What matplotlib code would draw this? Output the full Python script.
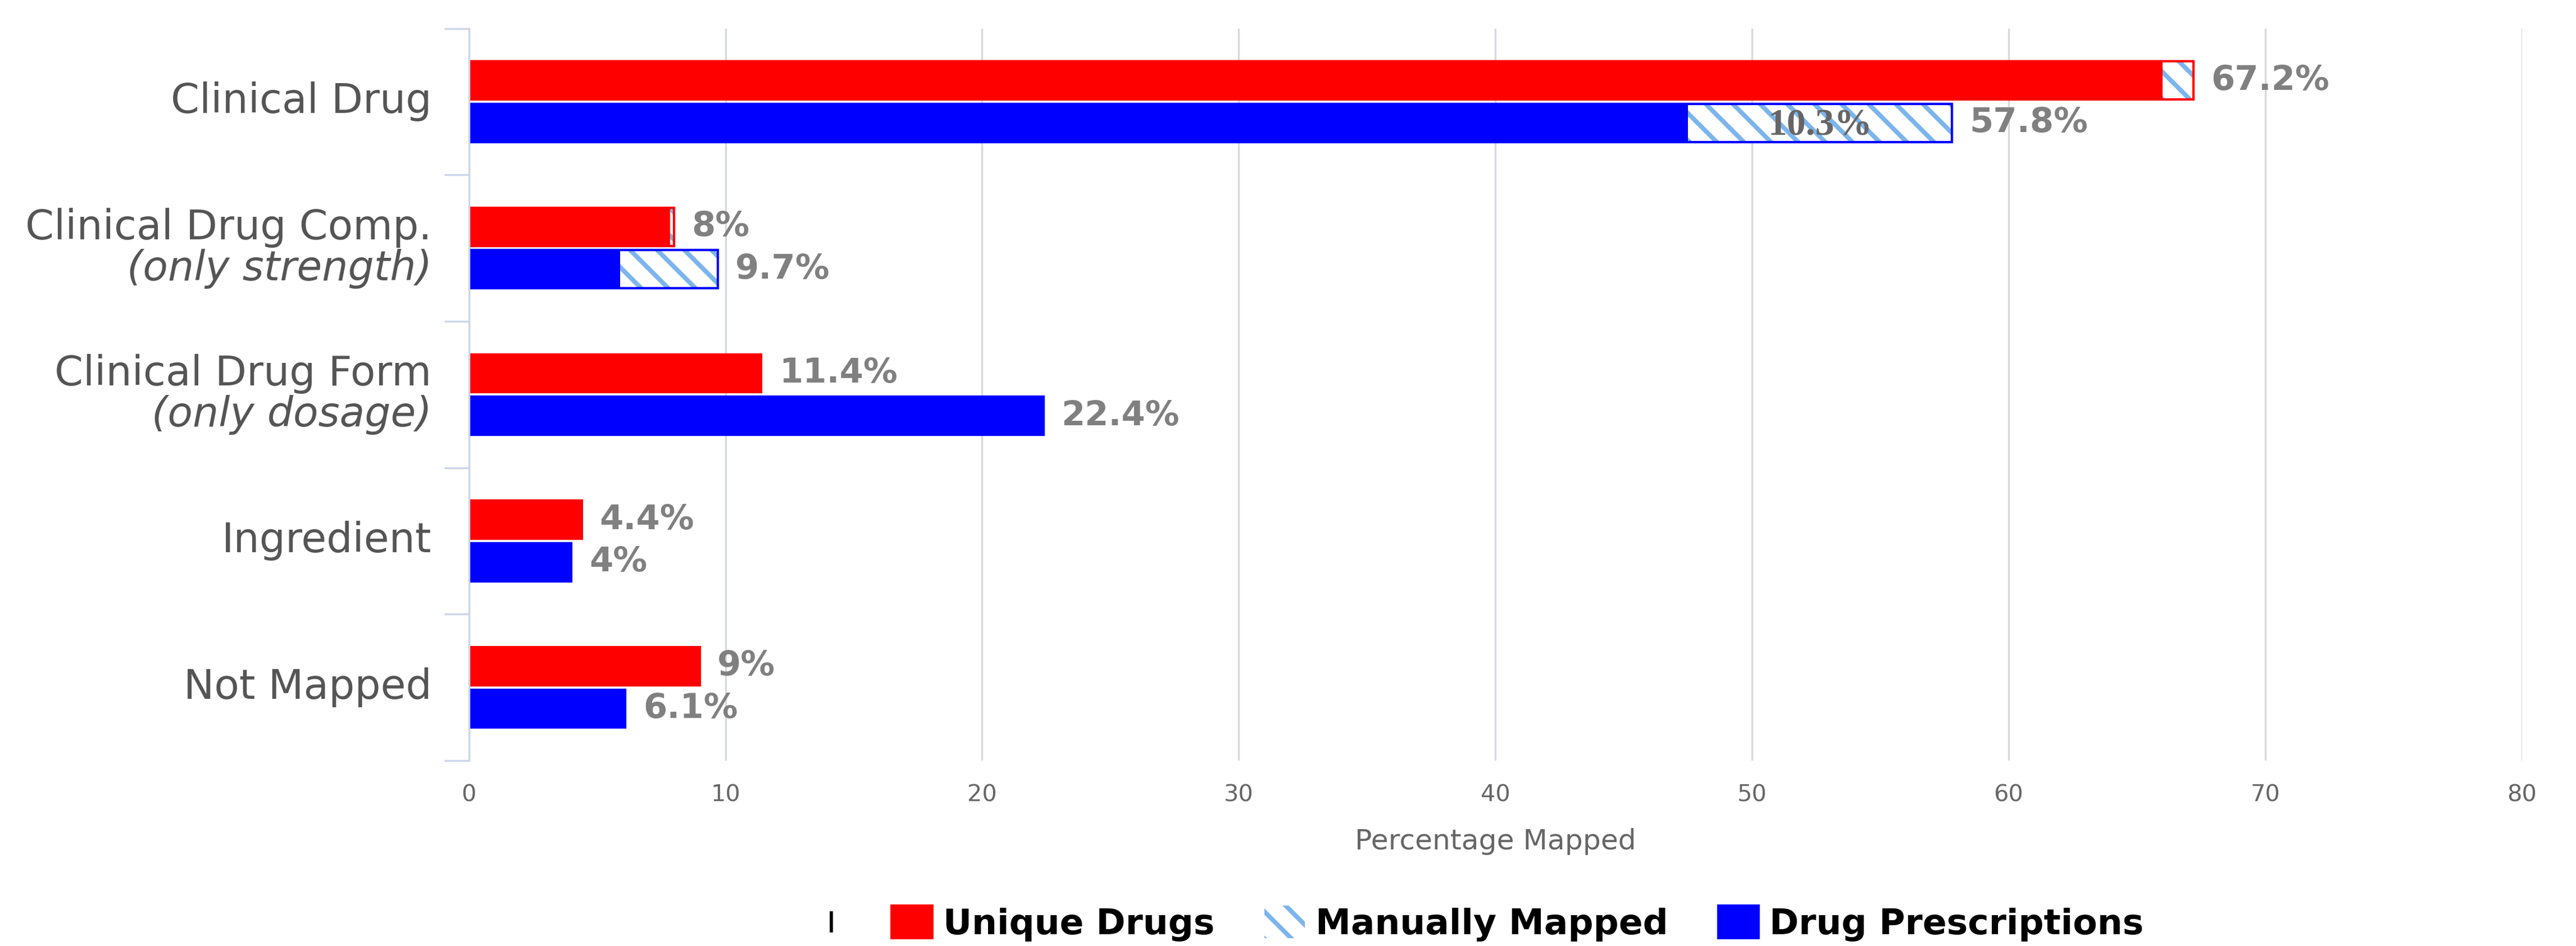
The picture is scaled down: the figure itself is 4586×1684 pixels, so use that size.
import numpy as np
import matplotlib
matplotlib.use("Agg")
import matplotlib.pyplot as plt
from matplotlib.patches import Patch
from matplotlib.lines import Line2D
from matplotlib.legend_handler import HandlerBase

# data
categories = ['Clinical Drug', 'Clinical Drug Comp.', 'Clinical Drug Form', 'Ingredient', 'Not Mapped']
subtitles = ['', '(only strength)', '(only dosage)', '', '']
unique_auto = [66.0, 7.85, 11.4, 4.4, 9.0]
unique_manual = [1.2, 0.15, 0.0, 0.0, 0.0]
rx_auto = [47.5, 5.9, 22.4, 4.0, 6.1]
rx_manual = [10.3, 3.8, 0.0, 0.0, 0.0]

RED = '#ff0000'
BLUE = '#0000ff'
HATCH = '#7cb5ec'
AXIS = '#ccd6eb'

# dpi also sets the hatch spacing
DPI = 290
plt.rcParams['hatch.linewidth'] = 2.0

fig = plt.figure(figsize=(4586 / DPI, 1684 / DPI), dpi=DPI)
ax = fig.add_axes([0.182, 0.196, 0.797, 0.774])

n = len(categories)
y = np.arange(n)
off = 0.145
h = 0.26

def draw_series(ypos, auto, manual, color):
    total = np.round(np.add(auto, manual), 1)
    ax.barh(ypos, auto, height=h, color=color, edgecolor=color, lw=0.7, zorder=3)
    ax.barh(ypos, manual, left=auto, height=h, facecolor='white', edgecolor=HATCH,
            hatch='\\\\', lw=0, zorder=3)
    ax.barh(ypos, total, height=h, fill=False, edgecolor=color, lw=1.05, zorder=4)
    for yy, a, m, t in zip(ypos, auto, manual, total):
        ax.annotate(f'{t:g}%', xy=(t, yy), xytext=(7.8, 0), textcoords='offset points',
                    va='center', ha='left', fontsize=15.1, fontweight='bold', color='#808080')
        if m > 5:
            ax.text(a + m / 2, yy + 0.02, f'{m:g}%', ha='center', va='center', fontsize=16.8,
                    family='Liberation Serif', fontweight='bold', color='#666666', zorder=5)

draw_series(y - off, unique_auto, unique_manual, RED)
draw_series(y + off, rx_auto, rx_manual, BLUE)

ax.set_xlim(0, 80)
ax.set_ylim(n - 0.5, -0.5)
ax.set_xticks(np.arange(0, 81, 10))
ax.tick_params(axis='x', length=0, pad=10.3, labelsize=10.3, labelcolor='#666666')
ax.set_yticks(np.arange(-0.5, n, 1.0))
ax.set_yticklabels([])
ax.tick_params(axis='y', direction='out', length=11, width=0.86, color=AXIS)
ax.xaxis.grid(True, color='#d6d9de', lw=0.86)
ax.set_axisbelow(True)
for s in ['top', 'right', 'bottom']:
    ax.spines[s].set_visible(False)
ax.spines['left'].set_color(AXIS)
ax.spines['left'].set_linewidth(0.86)
ax.spines['left'].set_zorder(6)

ax.set_xlabel('Percentage Mapped', fontsize=12.5, color='#666666', labelpad=9.5)

# category labels, second line in italics
tr = ax.get_yaxis_transform()
for i, (c, s) in enumerate(zip(categories, subtitles)):
    if s:
        ax.annotate(c, xy=(0, i - 0.14), xycoords=tr, xytext=(-16.4, 0), textcoords='offset points',
                    ha='right', va='center', fontsize=18.1, color='#555555')
        ax.annotate(s, xy=(0, i + 0.14), xycoords=tr, xytext=(-16.4, 0), textcoords='offset points',
                    ha='right', va='center', fontsize=18.1, color='#555555', fontstyle='italic')
    else:
        ax.annotate(c, xy=(0, i), xycoords=tr, xytext=(-16.4, 0), textcoords='offset points',
                    ha='right', va='center', fontsize=18.1, color='#555555')


class TickHandler(HandlerBase):
    # short black stroke at the right edge of the legend slot
    def create_artists(self, legend, orig_handle, xdescent, ydescent, width, height, fontsize, trans):
        x = -xdescent + width
        line = Line2D([x, x], [-ydescent + 0.22 * height, -ydescent + 0.78 * height],
                      color='black', lw=1.4, transform=trans)
        return [line]


handles = [
    Line2D([], [], color='black'),
    Patch(facecolor=RED, edgecolor=RED),
    Patch(facecolor='white', edgecolor=HATCH, hatch='\\\\', lw=0),
    Patch(facecolor=BLUE, edgecolor=BLUE),
]
labels = ['', 'Unique Drugs', 'Manually Mapped', 'Drug Prescriptions']
fig.legend(handles, labels, loc='center', bbox_to_anchor=(0.5695, 0.024), ncol=4,
           frameon=False, prop={'size': 15.7, 'weight': 'bold'}, handlelength=1.15,
           handleheight=1.05, handletextpad=0.3, columnspacing=1.4,
           handler_map={handles[0]: TickHandler()})

fig.savefig('out.png', dpi=DPI)
